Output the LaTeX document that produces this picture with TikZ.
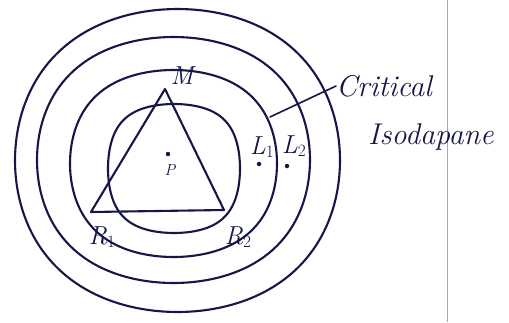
\documentclass[tikz,border=0pt]{standalone}
\begin{document}
\begin{tikzpicture}[x=1pt,y=-1pt,
  ink/.style={draw=inkc,line width=2.1pt,line join=round,line cap=round},
  lbl/.style={text=inkc,font=\itshape\fontsize{26}{28}\selectfont,inner sep=0pt},
  sml/.style={text=inkc,font=\itshape\fontsize{16}{18}\selectfont,inner sep=0pt},
  hand/.style={text=inkc,font=\itshape\fontsize{30}{33}\selectfont,inner sep=0pt},
  dotp/.style={circle,fill=inkc,inner sep=0pt,minimum size=4.5pt}]
\definecolor{inkc}{RGB}{22,22,72}
\definecolor{margin}{RGB}{190,160,160}
\useasboundingbox (0,0) rectangle (509,322);
\fill[white] (0,0) rectangle (509,322);
% page margin line
\draw[margin,line width=0.8pt] (447,0) -- (447,322);
% rings: hand-drawn loops
\draw[ink] plot[domain=0:357.5,samples=144,smooth cycle]
  ({177.5+162.5*(cos(\x)-0.012*cos(3*\x))/0.988},{160.5+151.5*(sin(\x)+0.012*sin(3*\x))/0.988});
\draw[ink] plot[domain=0:357.5,samples=144,smooth cycle]
  ({173.5+136.5*(cos(\x)-0.015*cos(3*\x))/0.985},{160+123*(sin(\x)+0.015*sin(3*\x))/0.985});
% critical isodapane
\draw[ink] plot[domain=0:357.5,samples=144,smooth cycle]
  ({173.5+103.5*(cos(\x)-0.02*cos(3*\x))/0.98},{163.5+93.5*(sin(\x)+0.02*sin(3*\x))/0.98});
% inner isodapane
\draw[ink] plot[domain=0:357.5,samples=144,smooth cycle]
  ({174+66*(cos(\x)-0.035*cos(3*\x))/0.965},{168.5+64.5*(sin(\x)+0.035*sin(3*\x))/0.965});
% triangle
\coordinate (M) at (165,89);
\coordinate (R1) at (91,212);
\coordinate (R2) at (224,210);
\draw[ink] (M) -- (R2) -- (R1) -- cycle;
\node[lbl] (lM) at (182,76) {M};
\node[lbl] (lR1) at (102,237) {R$_1$};
\node[lbl] (lR2) at (238,237) {R$_2$};
% P
\node[dotp] (dP) at (168,154) {};
\node[sml] (lP) at (170,170) {P};
% L1, L2
\node[lbl] (lL1) at (262,147) {L$_1$};
\node[dotp] (dL1) at (259,164) {};
\node[lbl] (lL2) at (294,146) {L$_2$};
\node[dotp] (dL2) at (287,166) {};
% pointer
\coordinate (pa) at (270,117);
\node[hand,anchor=west] (crit) at (336,86) {Critical};
\node[hand,anchor=west] (iso) at (368,137) {Isodapane};
\draw[ink,line width=1.6pt] (pa) -- (crit.west);
\end{tikzpicture}
\end{document}
